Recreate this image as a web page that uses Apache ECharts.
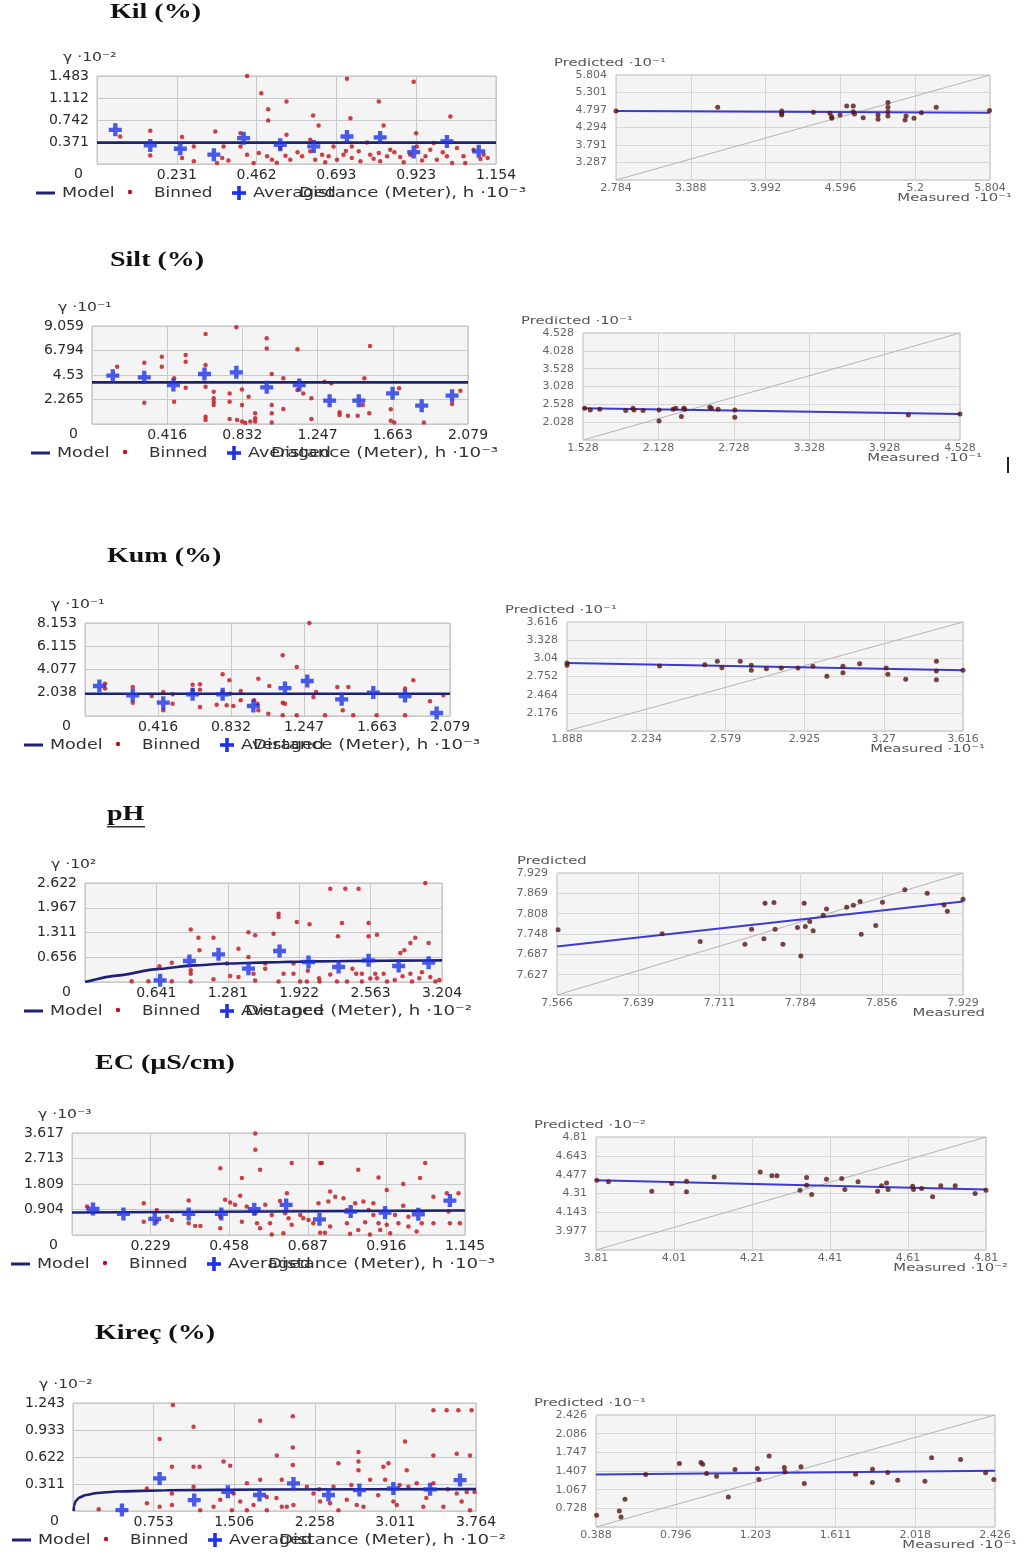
<!DOCTYPE html>
<html><head><meta charset="utf-8"><title>Semivariograms and cross-validation</title>
<script src="https://cdn.jsdelivr.net/npm/echarts@6/dist/echarts.min.js"></script>
<style>html,body{margin:0;padding:0;background:#fff}#chart{width:1031px;height:1557px}</style>
</head><body><div id="chart"></div><script>
// ---------------- DATA ----------------
const titles = ['Kil (%)', 'Silt (%)', 'Kum (%)', 'pH', 'EC (µS/cm)', 'Kireç (%)'];
const gammaLabels = ['γ ·10⁻²', 'γ ·10⁻¹', 'γ ·10⁻¹', 'γ ·10²', 'γ ·10⁻³', 'γ ·10⁻²'];
const distanceLabels = ['Distance (Meter), h ·10⁻³', 'Distance (Meter), h ·10⁻³', 'Distance (Meter), h ·10⁻³',
  'Distance (Meter), h ·10⁻²', 'Distance (Meter), h ·10⁻³', 'Distance (Meter), h ·10⁻²'];
const predictedLabels = ['Predicted ·10⁻¹', 'Predicted ·10⁻¹', 'Predicted ·10⁻¹', 'Predicted', 'Predicted ·10⁻²', 'Predicted ·10⁻¹'];
const measuredLabels = ['Measured ·10⁻¹', 'Measured ·10⁻¹', 'Measured ·10⁻¹', 'Measured', 'Measured ·10⁻²', 'Measured ·10⁻¹'];
const legendNames = ['Model', 'Binned', 'Averaged'];

// --- Kil ---
const kilSvXTicks = ['0', '0.231', '0.462', '0.693', '0.923', '1.154'];
const kilSvYTicks = ['0', '0.371', '0.742', '1.112', '1.483'];
const kilModel = [[0, 0.36], [1.154, 0.36]];
const kilAveraged = [[0.053,0.576],[0.154,0.313],[0.241,0.257],[0.338,0.157],[0.424,0.436],[0.530,0.325],[0.627,0.297],[0.723,0.464],[0.819,0.448],[0.916,0.201],[1.012,0.381],[1.104,0.213]];
const kilBinned = [[0.434,1.483],[0.475,1.192],[0.495,0.923],[0.495,0.733],[0.548,1.052],[0.548,0.492],[0.625,0.817],[0.641,0.649],[0.723,1.438],[0.733,0.772],[0.815,1.052],[0.829,0.649],[0.916,1.388],[0.923,0.520],[1.022,0.800],
  [0.067,0.464],[0.154,0.560],[0.154,0.145],[0.246,0.453],[0.246,0.101],[0.280,0.297],[0.280,0.045],[0.342,0.548],[0.347,0.017],[0.366,0.297],[0.362,0.100],[0.415,0.520],[0.415,0.297],[0.434,0.157],[0.453,0.017],[0.468,0.185],[0.492,0.129],[0.506,0.073],[0.530,0.269],[0.545,0.140],[0.559,0.073],[0.593,0.129],[0.617,0.409],[0.617,0.213],[0.631,0.073],[0.651,0.157],[0.670,0.129],[0.684,0.297],[0.694,0.073],[0.713,0.157],[0.737,0.297],[0.737,0.100],[0.757,0.213],[0.762,0.045],[0.781,0.364],[0.790,0.157],[0.815,0.185],[0.819,0.045],[0.839,0.129],[0.848,0.241],[0.877,0.118],[0.887,0.028],[0.906,0.157],[0.925,0.297],[0.950,0.129],[0.964,0.241],[0.974,0.353],[0.983,0.073],[1.012,0.129],[1.027,0.017],[1.041,0.269],[1.060,0.129],[1.065,0.017],[1.089,0.241],[1.109,0.084],[1.118,0.157],
  [0.380,0.060],[0.520,0.020],[0.580,0.200],[0.660,0.030],[0.720,0.220],[0.800,0.090],[0.860,0.200],[0.940,0.060],[1.000,0.200],[1.130,0.100]];
const kilCvXTicks = ['2.784', '3.388', '3.992', '4.596', '5.2', '5.804'];
const kilCvYTicks = ['2.784', '3.287', '3.791', '4.294', '4.797', '5.301', '5.804'];
const kilCvPoints = [[2.784,4.769],[3.605,4.874],[4.122,4.769],[4.122,4.701],[4.122,4.653],[4.378,4.73],[4.512,4.701],[4.526,4.606],[4.526,4.557],[4.593,4.653],[4.647,4.912],[4.70,4.912],[4.70,4.75],[4.71,4.68],[4.78,4.577],[4.90,4.653],[4.90,4.53],[4.98,5.01],[4.98,4.874],[4.98,4.75],[4.98,4.625],[5.118,4.51],[5.126,4.625],[5.19,4.557],[5.25,4.72],[5.37,4.874],[5.80,4.78]];
const kilCvFit = [[2.784, 4.765], [5.804, 4.72]];

// --- Silt ---
const siltSvXTicks = ['0', '0.416', '0.832', '1.247', '1.663', '2.079'];
const siltSvYTicks = ['0', '2.265', '4.53', '6.794', '9.059'];
const siltModel = [[0, 3.85], [2.079, 3.85]];
const siltAveraged = [[0.115,4.468],[0.289,4.314],[0.450,3.605],[0.622,4.622],[0.798,4.776],[0.966,3.389],[1.146,3.605],[1.314,2.157],[1.475,2.157],[1.662,2.835],[1.823,1.695],[1.991,2.619]];
const siltBinned = [[0.139,5.30],[0.289,1.97],[0.289,5.67],[0.386,5.30],[0.386,6.22],[0.454,4.22],[0.454,2.06],[0.518,6.38],[0.518,5.76],[0.518,3.36],[0.628,8.32],[0.628,5.45],[0.628,3.45],[0.628,0.68],[0.628,0.37],[0.673,2.99],[0.673,2.37],[0.673,2.06],[0.673,1.76],[0.761,2.83],[0.761,2.06],[0.761,0.46],[0.798,8.94],[0.802,0.37],[0.829,3.20],[0.829,1.76],[0.829,0.22],[0.847,0.12],[0.875,0.22],[0.866,2.53],[0.902,0.99],[0.902,0.52],[0.902,0.22],[0.966,7.92],[0.966,6.99],[0.994,4.62],[0.994,1.76],[0.994,0.99],[0.994,0.15],[1.058,4.22],[1.058,1.39],[1.136,6.90],[1.136,3.14],[1.168,2.83],[1.213,2.37],[1.213,0.46],[1.286,3.91],[1.323,3.76],[1.369,1.08],[1.369,0.83],[1.415,0.77],[1.469,0.77],[1.506,4.22],[1.497,1.76],[1.533,0.99],[1.537,7.21],[1.652,1.36],[1.652,0.31],[1.671,0.15],[1.698,3.30],[1.835,0.15],[1.991,1.85],[2.037,3.08]];
const siltCvXTicks = ['1.528', '2.128', '2.728', '3.328', '3.928', '4.528'];
const siltCvYTicks = ['1.528', '2.028', '2.528', '3.028', '3.528', '4.028', '4.528'];
const siltCvPoints = [[1.541,2.419],[1.586,2.372],[1.661,2.39],[1.868,2.353],[1.926,2.419],[1.934,2.372],[2.006,2.353],[2.133,2.372],[2.133,2.062],[2.245,2.39],[2.266,2.419],[2.311,2.184],[2.33,2.419],[2.338,2.39],[2.537,2.447],[2.55,2.419],[2.603,2.39],[2.736,2.372],[2.736,2.166],[4.117,2.231],[4.528,2.259]];
const siltCvFit = [[1.528, 2.419], [4.528, 2.259]];

// --- Kum ---
const kumSvXTicks = ['0', '0.416', '0.832', '1.247', '1.663', '2.079'];
const kumSvYTicks = ['0', '2.038', '4.077', '6.115', '8.153'];
const kumModel = [[0, 1.95], [2.079, 1.95]];
const kumAveraged = [[0.082,2.63],[0.272,1.81],[0.446,1.17],[0.613,1.90],[0.784,1.90],[0.959,0.88],[1.139,2.45],[1.266,3.07],[1.462,1.46],[1.642,2.05],[1.823,1.75],[2.003,0.26]];
const kumBinned = [[0.114,2.83],[0.114,2.40],[0.272,2.54],[0.272,1.17],[0.380,1.75],[0.446,2.10],[0.446,0.50],[0.499,1.90],[0.499,1.08],[0.613,2.75],[0.613,2.25],[0.655,2.78],[0.655,2.31],[0.655,0.79],[0.750,0.99],[0.784,3.65],[0.822,3.13],[0.784,2.10],[0.826,1.96],[0.807,0.94],[0.845,0.88],[0.887,2.19],[0.887,1.37],[0.963,1.37],[0.982,1.08],[0.987,3.27],[0.987,0.50],[1.044,0.20],[1.050,2.63],[1.126,5.32],[1.126,1.17],[1.139,1.08],[1.126,0.06],[1.206,4.30],[1.206,0.06],[1.278,8.15],[1.301,1.67],[1.316,2.10],[1.367,0.06],[1.437,2.54],[1.500,2.54],[1.468,0.50],[1.528,0.06],[1.661,0.06],[1.823,0.06],[1.823,2.40],[1.870,3.13],[1.965,1.29],[2.041,1.81]];
const kumCvXTicks = ['1.888', '2.234', '2.579', '2.925', '3.27', '3.616'];
const kumCvYTicks = ['1.888', '2.176', '2.464', '2.752', '3.04', '3.328', '3.616'];
const kumCvPoints = [[1.888,2.966],[1.888,2.929],[2.292,2.918],[2.489,2.94],[2.544,2.992],[2.564,2.892],[2.644,2.992],[2.692,2.929],[2.692,2.85],[2.758,2.876],[2.823,2.887],[2.896,2.887],[2.961,2.913],[3.022,2.755],[3.092,2.913],[3.092,2.813],[3.165,2.955],[3.281,2.887],[3.288,2.786],[3.366,2.707],[3.5,2.992],[3.5,2.84],[3.5,2.702],[3.616,2.85]];
const kumCvFit = [[1.888, 2.966], [3.616, 2.85]];

// --- pH ---
const phSvXTicks = ['0', '0.641', '1.281', '1.922', '2.563', '3.204'];
const phSvYTicks = ['0', '0.656', '1.311', '1.967', '2.622'];
const phModel = [[0,0],[0.284,0.17],[0.644,0.34],[0.973,0.44],[1.273,0.49],[1.632,0.52],[1.931,0.54],[2.231,0.55],[2.530,0.56],[2.830,0.566],[3.204,0.574]];
const phAveraged = [[0.674,0.044],[0.937,0.556],[1.198,0.733],[1.467,0.353],[1.746,0.821],[2.006,0.530],[2.276,0.397],[2.545,0.574],[2.815,0.424],[3.084,0.512]];
const phBinned = [[0.419,0.02],[0.569,0.02],[0.668,0.42],[0.779,0.02],[0.779,0.51],[0.949,1.39],[0.949,0.01],[0.949,0.22],[0.949,0.31],[1.018,1.17],[1.027,0.84],[1.153,1.17],[1.153,0.07],[1.273,0.49],[1.303,0.16],[1.377,0.88],[1.377,0.13],[1.467,1.32],[1.527,1.24],[1.467,0.66],[1.512,0.22],[1.527,0.04],[1.617,0.49],[1.617,0.35],[1.692,1.28],[1.737,1.81],[1.737,1.72],[1.737,0.01],[1.782,0.22],[1.871,0.22],[1.901,1.59],[2.015,1.53],[1.871,0.49],[1.931,0.01],[1.991,0.01],[2.105,0.01],[2.201,2.47],[2.336,2.47],[2.455,2.47],[2.270,1.21],[2.306,1.56],[2.201,0.20],[2.261,0.01],[2.351,0.01],[2.434,0.22],[2.485,0.22],[2.485,0.01],[2.545,1.56],[2.545,1.21],[2.620,1.25],[2.560,0.09],[2.605,0.22],[2.680,0.22],[2.710,0.01],[2.830,0.77],[2.866,0.84],[2.920,0.22],[2.935,0.01],[2.964,1.17],[2.920,1.03],[3.054,2.62],[3.084,1.03],[3.024,0.26],[3.099,0.13],[3.144,0.01],[2.0,0.30],[2.1,0.10],[2.4,0.35],[2.62,0.10],[2.78,0.05],[2.85,0.15],[3.0,0.10],[3.18,0.05]];
const phCvXTicks = ['7.566', '7.639', '7.711', '7.784', '7.856', '7.929'];
const phCvYTicks = ['7.566', '7.627', '7.687', '7.748', '7.808', '7.869', '7.929'];
const phCvPoints = [[7.567,7.760],[7.660,7.748],[7.694,7.725],[7.734,7.717],[7.740,7.762],[7.751,7.733],[7.752,7.839],[7.760,7.841],[7.761,7.762],[7.768,7.717],[7.781,7.767],[7.784,7.682],[7.787,7.839],[7.788,7.770],[7.792,7.785],[7.795,7.757],[7.804,7.803],[7.807,7.822],[7.825,7.827],[7.831,7.833],[7.837,7.844],[7.838,7.747],[7.851,7.773],[7.857,7.842],[7.877,7.879],[7.897,7.869],[7.912,7.834],[7.915,7.815],[7.929,7.851]];
const phCvFit = [[7.566, 7.710], [7.929, 7.844]];

// --- EC ---
const ecSvXTicks = ['0', '0.229', '0.458', '0.687', '0.916', '1.145'];
const ecSvYTicks = ['0', '0.904', '1.809', '2.713', '3.617'];
const ecModel = [[0, 0.80], [1.145, 0.87]];
const ecAveraged = [[0.061,0.925],[0.150,0.747],[0.241,0.569],[0.340,0.747],[0.435,0.747],[0.531,0.913],[0.624,1.067],[0.721,0.557],[0.812,0.830],[0.912,0.795],[1.009,0.735],[1.101,1.221]];
const ecBinned = [[0.044,1.01],[0.209,1.13],[0.209,0.47],[0.247,0.89],[0.247,0.47],[0.277,0.65],[0.291,0.53],[0.340,1.22],[0.340,0.42],[0.359,0.32],[0.374,0.32],[0.432,2.37],[0.432,0.65],[0.432,0.24],[0.446,1.25],[0.461,1.15],[0.475,1.07],[0.495,2.02],[0.490,1.39],[0.495,0.47],[0.509,1.01],[0.534,3.02],[0.534,3.60],[0.534,0.77],[0.539,0.42],[0.548,2.31],[0.548,0.24],[0.563,1.07],[0.577,0.42],[0.582,0.71],[0.582,0.02],[0.606,1.21],[0.616,0.06],[0.621,0.77],[0.626,1.48],[0.631,0.59],[0.640,2.55],[0.640,0.36],[0.665,0.71],[0.674,0.59],[0.689,0.53],[0.703,0.42],[0.718,1.13],[0.723,2.55],[0.728,2.55],[0.723,0.08],[0.737,0.08],[0.747,1.19],[0.752,1.54],[0.752,0.30],[0.767,1.36],[0.791,1.30],[0.801,0.89],[0.801,0.42],[0.810,0.04],[0.834,2.31],[0.825,1.13],[0.834,0.18],[0.849,1.19],[0.854,0.45],[0.864,0.89],[0.868,0.02],[0.878,1.13],[0.878,0.71],[0.893,2.04],[0.893,0.42],[0.898,0.18],[0.917,1.60],[0.917,0.36],[0.927,0.06],[0.941,0.71],[0.951,0.42],[0.965,1.81],[0.965,1.04],[0.980,0.65],[0.980,0.30],[1.004,0.12],[1.014,2.02],[1.029,2.55],[1.019,0.42],[1.053,0.42],[1.053,1.36],[1.092,1.48],[1.097,0.83],[1.101,0.42],[1.126,1.48],[1.130,0.42]];
const ecCvXTicks = ['3.81', '4.01', '4.21', '4.41', '4.61', '4.81'];
const ecCvYTicks = ['3.81', '3.977', '4.143', '4.31', '4.477', '4.643', '4.81'];
const ecCvPoints = [[3.812,4.428],[3.842,4.413],[3.953,4.331],[4.004,4.398],[4.042,4.419],[4.042,4.325],[4.113,4.457],[4.231,4.501],[4.261,4.466],[4.274,4.466],[4.333,4.339],[4.35,4.451],[4.35,4.384],[4.363,4.301],[4.401,4.436],[4.44,4.442],[4.448,4.345],[4.482,4.413],[4.532,4.331],[4.542,4.378],[4.555,4.404],[4.559,4.345],[4.622,4.375],[4.624,4.345],[4.645,4.354],[4.673,4.281],[4.694,4.378],[4.731,4.378],[4.782,4.31],[4.81,4.339]];
const ecCvFit = [[3.81, 4.428], [4.81, 4.345]];

// --- Kireç ---
const kirecSvXTicks = ['0', '0.753', '1.506', '2.258', '3.011', '3.764'];
const kirecSvYTicks = ['0', '0.311', '0.622', '0.933', '1.243'];
const kirecModel = [[0.006,0],[0.010,0.06],[0.025,0.115],[0.06,0.155],[0.12,0.184],[0.224,0.207],[0.41,0.225],[0.877,0.239],[1.81,0.248],[3.764,0.252]];
const kirecAveraged = [[0.457,0.011],[0.809,0.375],[1.132,0.126],[1.446,0.222],[1.742,0.184],[2.059,0.317],[2.386,0.184],[2.675,0.241],[2.992,0.260],[3.335,0.249],[3.615,0.356]];
const kirecBinned = [[0.24,0.02],[0.69,0.09],[0.69,0.26],[0.809,0.83],[0.809,0.05],[0.924,0.51],[0.924,0.07],[0.924,0.20],[0.933,1.22],[1.126,0.97],[1.126,0.51],[1.182,0.51],[1.126,0.28],[1.188,0.01],[1.313,0.05],[1.375,0.13],[1.406,0.57],[1.468,0.52],[1.484,0.01],[1.562,0.11],[1.624,0.32],[1.624,0.01],[1.686,0.07],[1.748,1.04],[1.748,0.36],[1.810,0.16],[1.810,0.01],[1.904,0.64],[1.950,0.36],[1.950,0.05],[2.053,1.09],[2.053,0.73],[2.053,0.53],[1.997,0.05],[2.059,0.07],[2.184,0.28],[2.246,0.20],[2.308,0.11],[2.401,0.09],[2.479,0.55],[2.479,0.01],[2.433,0.28],[2.557,0.13],[2.666,0.68],[2.666,0.57],[2.666,0.47],[2.650,0.07],[2.713,0.05],[2.775,0.36],[2.899,0.51],[2.946,0.55],[2.915,0.36],[2.992,0.11],[3.024,0.07],[3.101,0.80],[3.117,0.47],[3.132,0.28],[3.210,0.32],[3.272,0.05],[3.366,1.16],[3.490,1.16],[3.599,1.16],[3.723,1.16],[3.366,0.64],[3.366,0.32],[3.584,0.66],[3.708,0.64],[3.459,0.05],[3.584,0.20],[3.630,0.11],[3.677,0.22],[3.708,0.01],[1.5,0.20],[1.9,0.15],[2.3,0.25],[2.6,0.30],[2.85,0.18],[3.05,0.30],[3.3,0.15],[3.5,0.25],[3.75,0.22]];
const kirecCvXTicks = ['0.388', '0.796', '1.203', '1.611', '2.018', '2.426'];
const kirecCvYTicks = ['0.388', '0.728', '1.067', '1.407', '1.747', '2.086', '2.426'];
const kirecCvPoints = [[0.391,0.601],[0.507,0.680],[0.516,0.571],[0.536,0.893],[0.642,1.343],[0.814,1.544],[0.924,1.562],[0.933,1.532],[0.953,1.361],[1.004,1.313],[1.064,0.936],[1.098,1.434],[1.212,1.453],[1.22,1.252],[1.272,1.678],[1.35,1.471],[1.353,1.392],[1.435,1.483],[1.452,1.179],[1.714,1.349],[1.8,1.44],[1.8,1.197],[1.878,1.38],[1.929,1.24],[2.068,1.222],[2.102,1.647],[2.25,1.617],[2.378,1.374],[2.42,1.252]];
const kirecCvFit = [[0.388, 1.343], [2.426, 1.41]];

// ---------------- ASSEMBLY ----------------
const panels = [
  { svX: kilSvXTicks, svY: kilSvYTicks, model: kilModel, averaged: kilAveraged, binned: kilBinned, cvX: kilCvXTicks, cvY: kilCvYTicks, cv: kilCvPoints, fit: kilCvFit },
  { svX: siltSvXTicks, svY: siltSvYTicks, model: siltModel, averaged: siltAveraged, binned: siltBinned, cvX: siltCvXTicks, cvY: siltCvYTicks, cv: siltCvPoints, fit: siltCvFit },
  { svX: kumSvXTicks, svY: kumSvYTicks, model: kumModel, averaged: kumAveraged, binned: kumBinned, cvX: kumCvXTicks, cvY: kumCvYTicks, cv: kumCvPoints, fit: kumCvFit },
  { svX: phSvXTicks, svY: phSvYTicks, model: phModel, averaged: phAveraged, binned: phBinned, cvX: phCvXTicks, cvY: phCvYTicks, cv: phCvPoints, fit: phCvFit },
  { svX: ecSvXTicks, svY: ecSvYTicks, model: ecModel, averaged: ecAveraged, binned: ecBinned, cvX: ecCvXTicks, cvY: ecCvYTicks, cv: ecCvPoints, fit: ecCvFit },
  { svX: kirecSvXTicks, svY: kirecSvYTicks, model: kirecModel, averaged: kirecAveraged, binned: kirecBinned, cvX: kirecCvXTicks, cvY: kirecCvYTicks, cv: kirecCvPoints, fit: kirecCvFit }
];
// layout: [left, top, width, height]; predX = offset of the "Predicted" caption from the plot's left edge
const layout = [
  { title: [110, 13], sv: [97, 76, 399, 88], cv: [616, 75, 374, 105], predX: -62 },
  { title: [110, 261], sv: [92, 326, 376, 98], cv: [583, 333, 377, 107], predX: -62 },
  { title: [107, 557], sv: [85, 623, 365, 93], cv: [567, 622, 396, 109], predX: -62 },
  { title: [107, 815], sv: [85, 883, 357, 99], cv: [557, 873, 406, 122], predX: -40 },
  { title: [95, 1064], sv: [72, 1133, 393, 102], cv: [596, 1137, 390, 113], predX: -62 },
  { title: [95, 1334], sv: [73, 1403, 403, 108], cv: [596, 1415, 399, 112], predX: -62 }
];

const SANS = '"DejaVu Sans", "Liberation Sans", sans-serif';
const SERIF = '"Liberation Serif", "DejaVu Serif", serif';
const RED = '#c0111a', NAVY = '#1d2275', BLUE = '#1e33e6', PTCOL = '#561616', FITCOL = '#3b3bcf';
const PLUS = 'path://M4,0 L8,0 L8,4 L12,4 L12,8 L8,8 L8,12 L4,12 L4,8 L0,8 L0,4 L4,4 Z';

function axis(gridIndex, ticks, kind) {
  const min = parseFloat(ticks[0]);
  const max = parseFloat(ticks[ticks.length - 1]);
  const interval = (max - min) / (ticks.length - 1);
  const isSv = kind.startsWith('sv');
  const isY = kind.endsWith('y');
  return {
    type: 'value', gridIndex, min, max, interval,
    axisLine: { show: false }, axisTick: { show: false },
    splitLine: { show: true, lineStyle: { color: isSv ? '#c9c9c9' : '#d6d6d6', width: 1 } },
    axisLabel: {
      fontFamily: SANS, fontSize: isSv ? 14 : 11, color: isSv ? '#2a2a2a' : '#666',
      margin: isY ? (isSv ? 8 : 9) : (isSv ? 4 : 3),
      formatter: function (v) {
        const i = Math.round((v - min) / interval);
        if (i === 0) {
          if (kind === 'svx' || kind === 'cvy') return '';
          if (kind === 'svy') return '{o|' + ticks[0] + '}';
        }
        return ticks[i] !== undefined ? ticks[i] : '';
      },
      rich: { o: { fontFamily: SANS, fontSize: 14, color: '#2a2a2a', padding: [20, 6, 0, 0] } }
    }
  };
}

function gridBox(b) {
  return { left: b[0], top: b[1], width: b[2], height: b[3], show: true,
    backgroundColor: '#f4f4f4', borderColor: '#bdbdbd', borderWidth: 1, containLabel: false };
}

function txt(x, y, text, font, fill, align, scaleX) {
  return { type: 'text', x, y, scaleX: scaleX || 1, silent: true,
    style: { text, font, fill, align: align || 'left', verticalAlign: 'middle' } };
}

const grids = [], xAxes = [], yAxes = [], series = [], graphics = [];
panels.forEach((p, k) => {
  const lay = layout[k];
  // ---- semivariogram ----
  const gi = grids.length;
  grids.push(gridBox(lay.sv));
  xAxes.push(axis(gi, p.svX, 'svx'));
  yAxes.push(axis(gi, p.svY, 'svy'));
  series.push({ type: 'scatter', name: legendNames[1], xAxisIndex: gi, yAxisIndex: gi, data: p.binned,
    symbol: 'circle', symbolSize: 4.5, itemStyle: { color: RED }, z: 2, silent: true });
  series.push({ type: 'line', name: legendNames[0], xAxisIndex: gi, yAxisIndex: gi, data: p.model,
    showSymbol: false, smooth: p.model.length > 2 ? 0.2 : false, smoothMonotone: 'x',
    lineStyle: { color: NAVY, width: 2.6 }, z: 3, silent: true });
  series.push({ type: 'scatter', name: legendNames[2], xAxisIndex: gi, yAxisIndex: gi, data: p.averaged,
    symbol: PLUS, symbolSize: 13, itemStyle: { color: BLUE }, z: 4, silent: true });

  // ---- cross validation ----
  const gj = grids.length;
  grids.push(gridBox(lay.cv));
  xAxes.push(axis(gj, p.cvX, 'cvx'));
  yAxes.push(axis(gj, p.cvY, 'cvy'));
  const mn = parseFloat(p.cvX[0]), mx = parseFloat(p.cvX[p.cvX.length - 1]);
  series.push({ type: 'line', name: '1:1', xAxisIndex: gj, yAxisIndex: gj, data: [[mn, mn], [mx, mx]],
    showSymbol: false, lineStyle: { color: '#b3b3b3', width: 1 }, z: 2, silent: true });
  series.push({ type: 'line', name: 'Regression', xAxisIndex: gj, yAxisIndex: gj, data: p.fit,
    showSymbol: false, lineStyle: { color: FITCOL, width: 2 }, z: 3, silent: true });
  series.push({ type: 'scatter', name: 'Predicted', xAxisIndex: gj, yAxisIndex: gj, data: p.cv,
    symbol: 'circle', symbolSize: 5, itemStyle: { color: PTCOL }, z: 4, silent: true });

  // ---- texts ----
  const [L, T, W, H] = lay.sv;
  graphics.push(txt(lay.title[0], lay.title[1], titles[k], 'bold 20px ' + SERIF, '#111', 'left', 1.4));
  graphics.push(txt(L - 34, T - 18, gammaLabels[k], '13px ' + SANS, '#333', 'left', 1.2));
  const ly = T + H + 29;
  graphics.push({ type: 'rect', silent: true, shape: { x: L - 61, y: ly - 1.5, width: 19, height: 3 }, style: { fill: NAVY } });
  graphics.push(txt(L - 35, ly, legendNames[0], '14px ' + SANS, '#333', 'left', 1.25));
  graphics.push({ type: 'circle', silent: true, shape: { cx: L + 33, cy: ly - 1, r: 2.2 }, style: { fill: RED } });
  graphics.push(txt(L + 57, ly, legendNames[1], '14px ' + SANS, '#333', 'left', 1.2));
  graphics.push({ type: 'rect', silent: true, shape: { x: L + 135, y: ly - 1.8, width: 14, height: 3.6 }, style: { fill: BLUE } });
  graphics.push({ type: 'rect', silent: true, shape: { x: L + 140.2, y: ly - 7, width: 3.6, height: 14 }, style: { fill: BLUE } });
  graphics.push(txt(L + 156, ly, legendNames[2], '14px ' + SANS, '#333', 'left', 1.25));
  graphics.push(txt(L + W + 30, ly, distanceLabels[k], '14px ' + SANS, '#333', 'right', 1.3));

  const [cL, cT, cW, cH] = lay.cv;
  graphics.push(txt(cL + lay.predX, cT - 12, predictedLabels[k], '11px ' + SANS, '#555', 'left', 1.35));
  graphics.push(txt(cL + cW + 22, cT + cH + 18, measuredLabels[k], '11px ' + SANS, '#555', 'right', 1.35));
});
// underline of the pH heading and the stray mark beside the Silt plot
graphics.push({ type: 'rect', silent: true, shape: { x: 107, y: 826, width: 38, height: 1.5 }, style: { fill: '#333' } });
graphics.push({ type: 'rect', silent: true, shape: { x: 1007, y: 457, width: 2, height: 16 }, style: { fill: '#222' } });

const chart = echarts.init(document.getElementById('chart'), null, { renderer: 'canvas' });
chart.setOption({
  animation: false,
  backgroundColor: '#ffffff',
  grid: grids, xAxis: xAxes, yAxis: yAxes, series: series, graphic: graphics
});
</script></body></html>
